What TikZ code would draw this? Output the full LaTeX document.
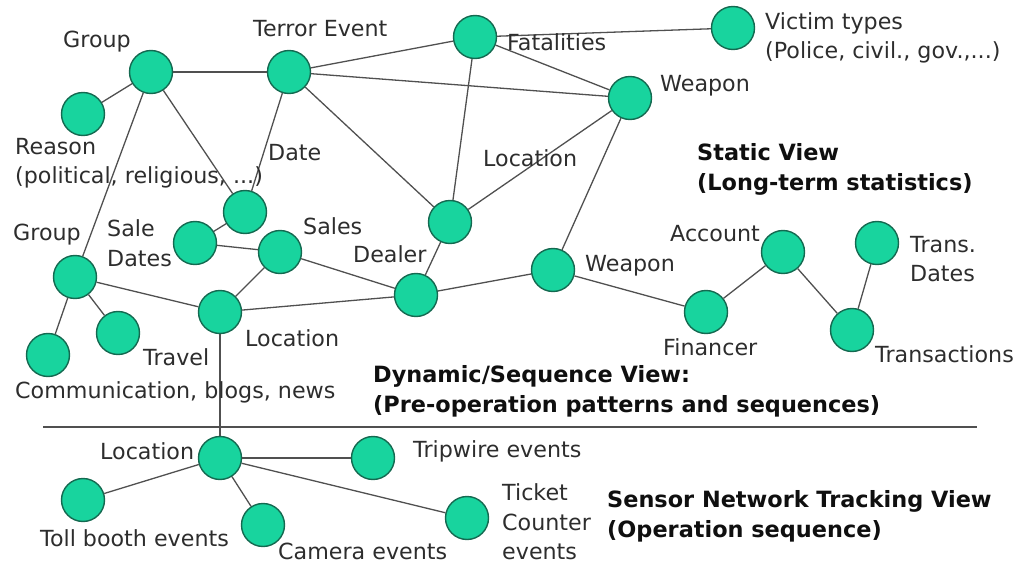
\documentclass[tikz,border=0pt]{standalone}
\usepackage{fontspec}
\setmainfont{DejaVu Sans}
\definecolor{nfill}{RGB}{24,212,158}
\definecolor{nline}{RGB}{20,105,80}
\definecolor{eline}{RGB}{80,80,80}
\definecolor{txt}{RGB}{45,45,45}
\definecolor{btxt}{RGB}{15,15,15}
\begin{document}
\begin{tikzpicture}[x=1pt,y=-1pt,
  ent/.style={circle,minimum size=43pt,inner sep=0pt,fill=nfill,draw=nline,line width=1.4pt},
  edge/.style={draw=eline,line width=1.3pt},
  lbl/.style={inner sep=0pt,anchor=west,text=txt,font=\fontsize{22.2}{29.5}\selectfont,align=left},
  blbl/.style={inner sep=0pt,anchor=west,text=btxt,font=\fontsize{22.4}{30}\selectfont\bfseries,align=left}]
\useasboundingbox (0,0) rectangle (1020,564);
% nodes
\node[ent] (grp) at (151,72) {};
\node[ent] (rsn) at (83,114) {};
\node[ent] (ter) at (289,72) {};
\node[ent] (dat) at (245,212) {};
\node[ent] (fat) at (475,37) {};
\node[ent] (wpn) at (630,98) {};
\node[ent] (vic) at (733,28) {};
\node[ent] (loc) at (450,222) {};
\node[ent] (dlr) at (416,295) {};
\node[ent] (wpd) at (553,270) {};
\node[ent] (sdt) at (195,243) {};
\node[ent] (sls) at (280,252) {};
\node[ent] (grd) at (75,277) {};
\node[ent] (com) at (48,355) {};
\node[ent] (trv) at (118,333) {};
\node[ent] (lcd) at (220,312) {};
\node[ent] (acc) at (783,252) {};
\node[ent] (fin) at (706,312) {};
\node[ent] (trn) at (852,330) {};
\node[ent] (tdt) at (877,243) {};
\node[ent] (lcs) at (220,458) {};
\node[ent] (trp) at (373,458) {};
\node[ent] (tol) at (83,500) {};
\node[ent] (cam) at (263,525) {};
\node[ent] (tkt) at (467,518) {};
% separator
\coordinate (sepL) at (43,427);
\coordinate (sepR) at (977,427);
% edges
\draw[edge] (grp) -- (ter);
\draw[edge] (grp) -- (rsn);
\draw[edge] (grp) -- (grd);
\draw[edge] (grp) -- (dat);
\draw[edge] (ter) -- (dat);
\draw[edge] (ter) -- (fat);
\draw[edge] (ter) -- (wpn);
\draw[edge] (ter) -- (loc);
\draw[edge] (fat) -- (vic);
\draw[edge] (fat) -- (wpn);
\draw[edge] (fat) -- (loc);
\draw[edge] (wpn) -- (loc);
\draw[edge] (wpn) -- (wpd);
\draw[edge] (loc) -- (dlr);
\draw[edge] (dat) -- (sdt);
\draw[edge] (sdt) -- (sls);
\draw[edge] (sls) -- (dlr);
\draw[edge] (sls) -- (lcd);
\draw[edge] (grd) -- (lcd);
\draw[edge] (grd) -- (com);
\draw[edge] (grd) -- (trv);
\draw[edge] (lcd) -- (dlr);
\draw[edge] (dlr) -- (wpd);
\draw[edge] (wpd) -- (fin);
\draw[edge] (fin) -- (acc);
\draw[edge] (acc) -- (trn);
\draw[edge] (trn) -- (tdt);
\draw[edge] (lcd) -- (lcs);
\draw[edge] (lcs) -- (trp);
\draw[edge] (lcs) -- (tol);
\draw[edge] (lcs) -- (cam);
\draw[edge] (lcs) -- (tkt);
\draw[draw=eline,line width=1.2pt] (sepL) -- (sepR);
% labels
\node[lbl,anchor=center] (l1) at (97,42) {Group};
\node[lbl] (l2) at (253,29) {Terror Event};
\node[lbl] (l3) at (507,42) {Fatalities};
\node[lbl] (l4) at (765,38) {Victim types\\(Police, civil., gov.,...)};
\node[lbl] (l5) at (660,86) {Weapon};
\node[lbl] (l6) at (15,163) {Reason\\(political, religious, ...)};
\node[lbl] (l7) at (268,153) {Date};
\node[lbl] (l8) at (483,158) {Location};
\node[blbl] (l9) at (697,169) {Static View\\(Long-term statistics)};
\node[lbl] (l10) at (13,235) {Group};
\node[lbl] (l11) at (107,243) {Sale\\Dates};
\node[lbl] (l12) at (303,226) {Sales};
\node[lbl] (l13) at (353,254) {Dealer};
\node[lbl] (l14) at (585,266) {Weapon};
\node[lbl] (l15) at (670,234) {Account};
\node[lbl] (l16) at (910,259) {Trans.\\Dates};
\node[lbl] (l17) at (663,347) {Financer};
\node[lbl] (l18) at (875,354) {Transactions};
\node[lbl] (l19) at (143,357) {Travel};
\node[lbl] (l20) at (245,338) {Location};
\node[lbl] (l21) at (15,392) {Communication, blogs, news};
\node[blbl] (l22) at (373,391) {Dynamic/Sequence View:\\(Pre-operation patterns and sequences)};
\node[lbl] (l23) at (100,451) {Location};
\node[lbl] (l24) at (413,451) {Tripwire events};
\node[lbl] (l25) at (502,522) {Ticket\\Counter\\events};
\node[lbl] (l26) at (40,538) {Toll booth events};
\node[lbl] (l27) at (278,551) {Camera events};
\node[blbl] (l28) at (607,516) {Sensor Network Tracking View\\(Operation sequence)};
\end{tikzpicture}
\end{document}
